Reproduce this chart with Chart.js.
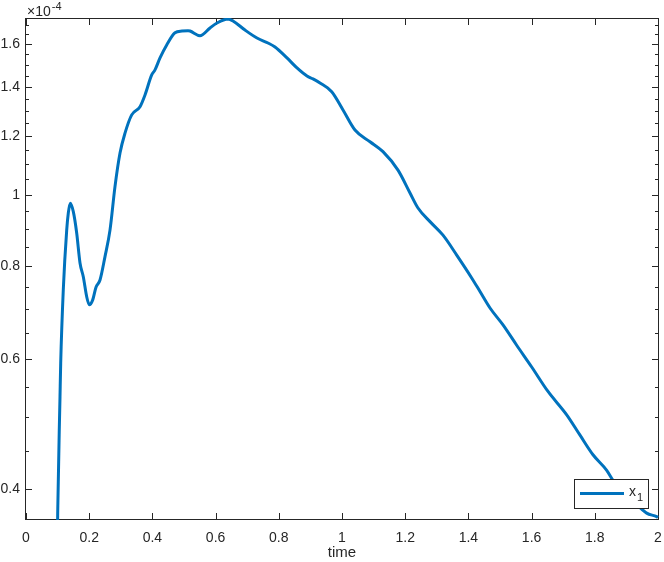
<!DOCTYPE html>
<html>
<head>
<meta charset="utf-8">
<script src="https://cdn.jsdelivr.net/npm/chart.js@4/dist/chart.umd.min.js"></script>
<style>
  html, body { margin: 0; padding: 0; background: #ffffff; }
  #wrap { width: 664px; height: 562px; position: relative; }
</style>
</head>
<body>
<div id="wrap"><canvas id="c" width="664" height="562"></canvas></div>
<script>
// ---- data (values of x1 in units of 1e-4) ----
const time = [0.098, 0.1003, 0.1076, 0.1098, 0.118, 0.1288, 0.1339, 0.1402, 0.1497, 0.1604,
  0.1709, 0.1813, 0.1921, 0.2003, 0.2111, 0.2215, 0.2342, 0.25, 0.2658, 0.2816,
  0.2975, 0.3133, 0.3345, 0.3608, 0.3766, 0.3978, 0.4082, 0.4241, 0.4453, 0.4715,
  0.4937, 0.5127, 0.519, 0.5506, 0.5823, 0.6044, 0.6392, 0.6551, 0.693, 0.731,
  0.7658, 0.788, 0.8259, 0.8576, 0.8892, 0.9082, 0.9304, 0.9674, 1.0032, 1.0411,
  1.0886, 1.1297, 1.1772, 1.2152, 1.2405, 1.2785, 1.3196, 1.363, 1.4104, 1.4367,
  1.4684, 1.5095, 1.5528, 1.6003, 1.6519, 1.7111, 1.7532, 1.7943, 1.8377, 1.8576,
  1.8956, 1.9326, 1.9642, 1.9959, 2.0];
const x1 = [0.30, 0.371, 0.533, 0.592, 0.744, 0.896, 0.945, 0.974, 0.949, 0.888,
  0.809, 0.775, 0.728, 0.710, 0.721, 0.750, 0.767, 0.825, 0.896, 1.026,
  1.139, 1.212, 1.283, 1.316, 1.365, 1.453, 1.476, 1.532, 1.595, 1.657,
  1.666, 1.668, 1.666, 1.642, 1.682, 1.708, 1.730, 1.719, 1.671, 1.630,
  1.605, 1.585, 1.532, 1.485, 1.448, 1.435, 1.417, 1.379, 1.303, 1.224,
  1.180, 1.144, 1.080, 1.006, 0.960, 0.920, 0.882, 0.829, 0.772, 0.740,
  0.703, 0.667, 0.626, 0.585, 0.542, 0.504, 0.473, 0.445, 0.424, 0.411,
  0.393, 0.381, 0.371, 0.367, 0.366];
const seriesName = 'x1';
const xTicks = [0, 0.2, 0.4, 0.6, 0.8, 1, 1.2, 1.4, 1.6, 1.8, 2];
const yTicks = [0.4, 0.6, 0.8, 1, 1.2, 1.4, 1.6];
const yMinorTicks = [0.35, 0.45, 0.5, 0.55, 0.65, 0.7, 0.75, 0.85, 0.9, 0.95, 1.05, 1.1, 1.15,
  1.25, 1.3, 1.35, 1.45, 1.5, 1.55, 1.65, 1.7];
const yExponent = '-4';
const xTitle = 'time';

const FONT = '"Liberation Sans", Arial, Helvetica, sans-serif';
const AXIS = '#262626';
const LINE = '#0072BD';

const fmt = v => String(Number(v.toFixed(2)));

const axesPlugin = {
  id: 'matlabAxes',
  beforeDatasetsDraw(chart) {
    const ctx = chart.ctx, a = chart.chartArea;
    const xs = chart.scales.x, ys = chart.scales.y;
    ctx.save();
    ctx.strokeStyle = AXIS;
    ctx.lineWidth = 1;
    ctx.beginPath();
    xTicks.forEach(v => {
      const px = Math.round(xs.getPixelForValue(v)) + 0.5;
      ctx.moveTo(px, a.bottom); ctx.lineTo(px, a.bottom - 6);
      ctx.moveTo(px, a.top); ctx.lineTo(px, a.top + 6);
    });
    yTicks.forEach(v => {
      const py = Math.round(ys.getPixelForValue(v)) + 0.5;
      ctx.moveTo(a.left, py); ctx.lineTo(a.left + 6, py);
      ctx.moveTo(a.right, py); ctx.lineTo(a.right - 6, py);
    });
    yMinorTicks.forEach(v => {
      const p = ys.getPixelForValue(v);
      if (p < a.top || p > a.bottom) return;
      const py = Math.round(p) + 0.5;
      ctx.moveTo(a.left, py); ctx.lineTo(a.left + 3, py);
      ctx.moveTo(a.right, py); ctx.lineTo(a.right - 3, py);
    });
    ctx.stroke();
    ctx.strokeRect(a.left - 0.5, a.top - 0.5, a.right - a.left + 1, a.bottom - a.top + 1);
    ctx.restore();
  },
  afterDraw(chart) {
    const ctx = chart.ctx, a = chart.chartArea;
    ctx.save();
    ctx.fillStyle = AXIS;
    ctx.textBaseline = 'alphabetic';
    ctx.textAlign = 'left';
    ctx.font = '14px ' + FONT;
    const base = '\u00d710';
    ctx.fillText(base, a.left + 1, a.top - 3);
    const w = ctx.measureText(base).width;
    ctx.font = '11px ' + FONT;
    ctx.fillText(yExponent, a.left + 1 + w + 1, a.top - 9);
    // legend
    const lx = 574.5, ly = 479.5, lw = 74, lh = 29;
    ctx.fillStyle = '#ffffff';
    ctx.fillRect(lx, ly, lw, lh);
    ctx.strokeStyle = AXIS;
    ctx.lineWidth = 1;
    ctx.strokeRect(lx, ly, lw, lh);
    const ds = chart.data.datasets[0];
    ctx.strokeStyle = ds.borderColor;
    ctx.lineWidth = ds.borderWidth;
    ctx.beginPath();
    ctx.moveTo(580, 493.5); ctx.lineTo(624, 493.5);
    ctx.stroke();
    ctx.fillStyle = AXIS;
    ctx.font = '14px ' + FONT;
    ctx.textBaseline = 'alphabetic';
    ctx.fillText(seriesName.charAt(0), 629, 496);
    const xw = ctx.measureText(seriesName.charAt(0)).width;
    ctx.font = '11px ' + FONT;
    ctx.fillText(seriesName.slice(1), 629 + xw + 1, 501);
    ctx.restore();
  }
};

new Chart(document.getElementById('c'), {
  type: 'line',
  data: {
    datasets: [{
      label: seriesName,
      data: time.map((t, i) => ({ x: t, y: x1[i] })),
      borderColor: LINE,
      backgroundColor: LINE,
      borderWidth: 3,
      pointRadius: 0,
      pointHoverRadius: 0,
      fill: false,
      cubicInterpolationMode: 'monotone',
      clip: 1
    }]
  },
  options: {
    responsive: false,
    animation: false,
    devicePixelRatio: 1,
    layout: { padding: { left: 0, top: 19, right: 6, bottom: 0 } },
    plugins: { legend: { display: false }, tooltip: { enabled: false } },
    scales: {
      x: {
        type: 'linear',
        min: 0, max: 2,
        afterBuildTicks: s => { s.ticks = xTicks.map(v => ({ value: v })); },
        afterFit: s => { s.height = 43; s.paddingLeft = 0; s.paddingRight = 0; },
        grid: { display: false, drawTicks: false },
        border: { display: false },
        ticks: {
          autoSkip: false, maxRotation: 0, padding: 11,
          color: AXIS, font: { family: FONT, size: 14 },
          callback: v => fmt(v)
        },
        title: {
          display: true, text: xTitle, color: AXIS,
          font: { family: FONT, size: 15 },
          padding: { top: 0, bottom: 0 }
        }
      },
      y: {
        type: 'logarithmic',
        min: 0.3643, max: 1.7296,
        afterBuildTicks: s => { s.ticks = yTicks.map(v => ({ value: v })); },
        afterFit: s => { s.width = 26; s.paddingTop = 0; s.paddingBottom = 0; },
        grid: { display: false, drawTicks: false },
        border: { display: false },
        ticks: {
          autoSkip: false, padding: 6,
          color: AXIS, font: { family: FONT, size: 14 },
          callback: v => fmt(v)
        }
      }
    }
  },
  plugins: [axesPlugin]
});
</script>
</body>
</html>
